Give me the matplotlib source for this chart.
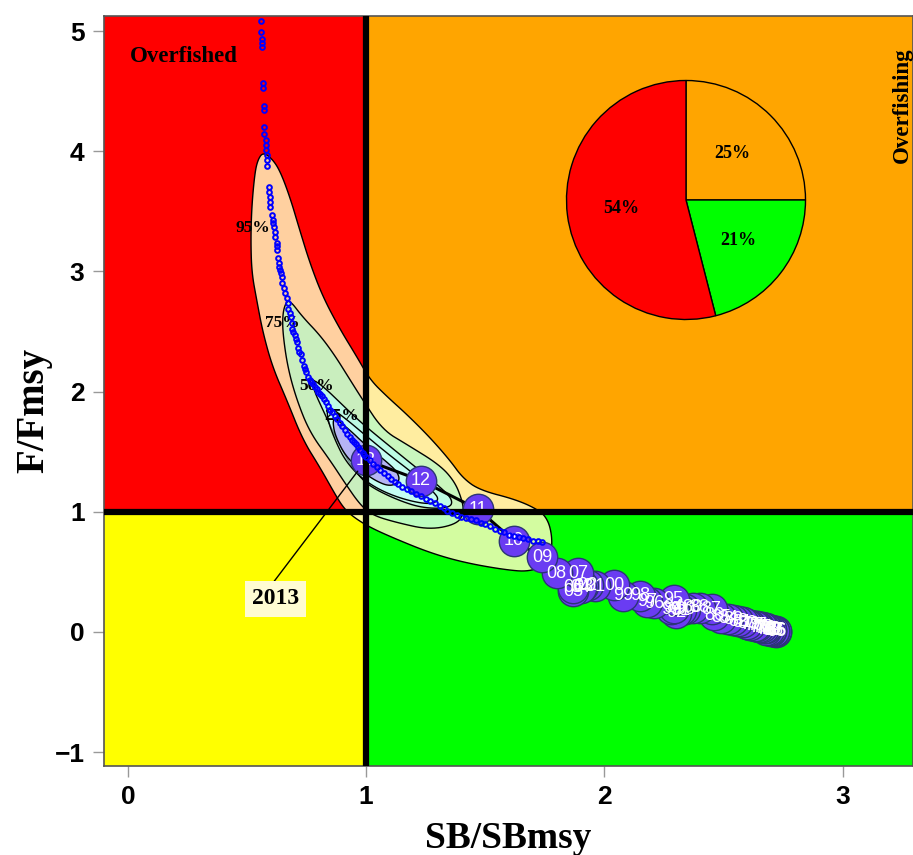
import matplotlib
matplotlib.use("Agg")
import matplotlib.pyplot as plt
import numpy as np

# ---------------- data ----------------
years = list(range(1965, 2014))
sb_ratio = [2.72, 2.72, 2.71, 2.71, 2.70, 2.70, 2.69, 2.68, 2.68, 2.67,
            2.66, 2.65, 2.64, 2.63, 2.61, 2.60, 2.58, 2.56, 2.54, 2.52,
            2.49, 2.46, 2.45, 2.40, 2.37, 2.34, 2.32, 2.30, 2.28, 2.29,
            2.29, 2.21, 2.18, 2.15, 2.08, 2.04, 1.96, 1.93, 1.91, 1.90,
            1.87, 1.87, 1.89, 1.80, 1.74, 1.62, 1.47, 1.23, 1.00]
f_ratio = [0.00, 0.01, 0.01, 0.01, 0.01, 0.02, 0.02, 0.02, 0.03, 0.03,
           0.04, 0.04, 0.05, 0.05, 0.06, 0.07, 0.08, 0.09, 0.10, 0.11,
           0.12, 0.14, 0.19, 0.20, 0.20, 0.19, 0.18, 0.16, 0.19, 0.20,
           0.27, 0.24, 0.25, 0.30, 0.30, 0.39, 0.38, 0.39, 0.38, 0.37,
           0.34, 0.37, 0.49, 0.49, 0.62, 0.76, 1.02, 1.26, 1.43]

# projection / uncertainty points (blue)
proj_x = [0.558, 0.558, 0.562, 0.562, 0.563, 0.567, 0.567, 0.571, 0.571, 0.572,
          0.572, 0.579, 0.580, 0.581, 0.582, 0.584, 0.586, 0.592, 0.594, 0.596,
          0.597, 0.598, 0.606, 0.608, 0.610, 0.615, 0.617, 0.619, 0.625, 0.627,
          0.628, 0.632, 0.634, 0.636, 0.637, 0.644, 0.646, 0.648, 0.657, 0.660,
          0.667, 0.671, 0.674, 0.679, 0.684, 0.688, 0.690, 0.695, 0.700, 0.705,
          0.710, 0.716, 0.720, 0.725, 0.732, 0.738, 0.743, 0.748, 0.757, 0.763,
          0.770, 0.777, 0.785, 0.792, 0.800, 0.807, 0.814, 0.822, 0.830, 0.839,
          0.848, 0.858, 0.868, 0.879, 0.890, 0.900, 0.910, 0.921, 0.932, 0.941,
          0.950, 0.958, 0.965, 0.975, 0.986, 0.993, 1.00, 1.015, 1.03, 1.045,
          1.06, 1.075, 1.09, 1.105, 1.12, 1.135, 1.15, 1.17, 1.19, 1.21,
          1.23, 1.25, 1.27, 1.29, 1.31, 1.325, 1.34, 1.36, 1.38, 1.40,
          1.42, 1.44, 1.46, 1.48, 1.50, 1.52, 1.54, 1.56, 1.58, 1.60,
          1.62, 1.64, 1.66, 1.68, 1.70, 1.72, 1.74]
proj_y = [5.08, 4.99, 4.93, 4.90, 4.87, 4.57, 4.53, 4.38, 4.34, 4.20,
          4.14, 4.09, 4.05, 4.01, 3.97, 3.93, 3.88, 3.70, 3.66, 3.62,
          3.58, 3.54, 3.47, 3.43, 3.40, 3.37, 3.33, 3.29, 3.24, 3.21,
          3.18, 3.11, 3.07, 3.04, 3.01, 2.99, 2.95, 2.90, 2.86, 2.82,
          2.78, 2.74, 2.69, 2.65, 2.62, 2.57, 2.52, 2.50, 2.47, 2.44,
          2.41, 2.36, 2.33, 2.31, 2.26, 2.21, 2.19, 2.16, 2.12, 2.10,
          2.08, 2.06, 2.04, 2.02, 2.00, 1.98, 1.96, 1.94, 1.91, 1.88,
          1.85, 1.83, 1.80, 1.77, 1.74, 1.71, 1.68, 1.65, 1.62, 1.60,
          1.58, 1.56, 1.54, 1.51, 1.49, 1.47, 1.46, 1.43, 1.40, 1.37,
          1.35, 1.32, 1.30, 1.27, 1.25, 1.23, 1.21, 1.19, 1.17, 1.15,
          1.13, 1.11, 1.09, 1.07, 1.05, 1.03, 1.01, 0.99, 0.97, 0.96,
          0.95, 0.94, 0.93, 0.91, 0.90, 0.88, 0.86, 0.84, 0.83, 0.81,
          0.80, 0.79, 0.78, 0.77, 0.76, 0.755, 0.75]

# density contours (probability levels)
c95_x = [0.567, 0.604, 0.638, 0.680, 0.722, 0.764, 0.818, 0.890, 0.961, 1.016,
         1.087, 1.171, 1.267, 1.351, 1.406, 1.477, 1.632, 1.729, 1.763, 1.779,
         1.779, 1.758, 1.687, 1.574, 1.406, 1.267, 1.129, 1.016, 0.944, 0.902,
         0.860, 0.806, 0.734, 0.667, 0.608, 0.567, 0.541, 0.520, 0.516, 0.520,
         0.533, 0.546]
c95_y = [3.99, 3.94, 3.84, 3.62, 3.34, 3.07, 2.79, 2.52, 2.29, 2.10,
         1.96, 1.81, 1.62, 1.43, 1.28, 1.18, 1.10, 1.01, 0.93, 0.81,
         0.68, 0.57, 0.50, 0.52, 0.58, 0.66, 0.77, 0.87, 0.96, 1.04,
         1.18, 1.37, 1.60, 1.93, 2.20, 2.49, 2.76, 2.99, 3.26, 3.54,
         3.82, 3.93]
c75_x = [0.680, 0.734, 0.806, 0.869, 0.932, 0.986, 1.070, 1.171, 1.309, 1.372,
         1.402, 1.410, 1.385, 1.267, 1.129, 1.028, 0.974, 0.911, 0.848, 0.764,
         0.709, 0.671, 0.650, 0.650, 0.663]
c75_y = [2.76, 2.62, 2.47, 2.30, 2.10, 1.93, 1.68, 1.56, 1.39, 1.25,
         1.10, 1.00, 0.90, 0.85, 0.91, 0.97, 1.06, 1.24, 1.43, 1.66,
         1.93, 2.20, 2.49, 2.65, 2.74]
c50_x = [0.772, 0.827, 0.890, 0.953, 1.016, 1.171, 1.309, 1.364, 1.351, 1.238,
         1.129, 1.016, 0.965, 0.923, 0.877, 0.818, 0.781]
c50_y = [2.11, 2.03, 1.91, 1.79, 1.68, 1.43, 1.21, 1.10, 1.03, 1.03,
         1.10, 1.21, 1.31, 1.43, 1.60, 1.85, 2.01]
c25_x = [0.835, 0.911, 0.995, 1.099, 1.204, 1.276, 1.309, 1.267, 1.162, 1.057,
         0.974, 0.911, 0.869, 0.839]
c25_y = [1.89, 1.78, 1.64, 1.47, 1.31, 1.18, 1.10, 1.06, 1.10, 1.18,
         1.29, 1.43, 1.60, 1.76]
c05_x = [0.869, 0.932, 0.995, 1.078, 1.133, 1.141, 1.099, 1.037, 0.974, 0.911,
         0.869, 0.860]
c05_y = [1.78, 1.68, 1.56, 1.43, 1.33, 1.25, 1.21, 1.26, 1.35, 1.47,
         1.64, 1.75]

contour_labels = ["95%", "75%", "50%", "25%"]
contour_label_x = [0.525, 0.650, 0.793, 0.898]
contour_label_y = [3.36, 2.57, 2.05, 1.80]

pie_labels = ["Overfishing", "Healthy", "Overfished"]
pie_values = [25, 21, 54]

x_ticks = [0, 1, 2, 3]
y_ticks = [-1, 0, 1, 2, 3, 4, 5]


def smooth_closed(xs, ys, n_iter=3):
    """Chaikin corner cutting, used only to draw a smooth outline."""
    p = np.column_stack([xs, ys]).astype(float)
    for _ in range(n_iter):
        q = np.roll(p, -1, axis=0)
        p = np.column_stack([0.75 * p + 0.25 * q, 0.25 * p + 0.75 * q]).reshape(-1, 2)
    return p[:, 0], p[:, 1]


# ---------------- plotting ----------------
W, H = 913, 855
fig = plt.figure(figsize=(W / 100, H / 100), dpi=100)
ax = fig.add_axes([104 / W, (H - 766) / H, 809 / W, 750 / H])
xmin, xmax = -0.100, 3.295
ymin, ymax = -1.115, 5.125
ax.set_xlim(xmin, xmax)
ax.set_ylim(ymin, ymax)

RED, ORANGE, YELLOW, GREEN = "#FF0000", "#FFA500", "#FFFF00", "#00FF00"
ax.fill_between([xmin, 1], 1, ymax, color=RED, lw=0, zorder=0)
ax.fill_between([1, xmax], 1, ymax, color=ORANGE, lw=0, zorder=0)
ax.fill_between([xmin, 1], ymin, 1, color=YELLOW, lw=0, zorder=0)
ax.fill_between([1, xmax], ymin, 1, color=GREEN, lw=0, zorder=0)

contours = [
    (c95_x, c95_y, (1.0, 0.99, 0.76), 0.83),
    (c75_x, c75_y, (0.70, 0.99, 0.80), 0.70),
    (c50_x, c50_y, (0.72, 1.0, 0.98), 0.65),
    (c25_x, c25_y, (0.80, 1.0, 1.0), 0.55),
    (c05_x, c05_y, (0.70, 0.66, 0.96), 0.85),
]
for i, (cx, cy, col, a) in enumerate(contours):
    sx, sy = smooth_closed(cx, cy)
    ax.fill(sx, sy, facecolor=col + (a,), edgecolor="black", lw=1.0, zorder=1 + i * 0.01)

serif = "Liberation Serif"
for lab, lx, ly in zip(contour_labels, contour_label_x, contour_label_y):
    ax.text(lx, ly, lab, fontsize=12.5, fontweight="bold", family=serif,
            ha="center", va="center", zorder=2)

# trajectory
ax.plot(sb_ratio, f_ratio, color="black", lw=2.2, zorder=3)
ax.scatter(sb_ratio, f_ratio, s=480, color="#6a3cf2", edgecolor="#2b3575",
           linewidth=1.0, zorder=4)
for yr, xv, yv in zip(years, sb_ratio, f_ratio):
    ax.text(xv, yv, f"{yr % 100:02d}", color="white", fontsize=13,
            ha="center", va="center", family="Liberation Sans", zorder=5)

# reference lines
ax.axvline(1, color="black", lw=4.5, zorder=6)
ax.axhline(1, color="black", lw=4.5, zorder=6)

# projection points
ax.plot(proj_x, proj_y, "o", ms=3.4, mfc="none", mec="#0000FF", mew=1.4, zorder=7)

# quadrant labels
ax.text(0.01, 4.79, "Overfished", fontsize=16.5, fontweight="bold", family=serif,
        ha="left", va="center", zorder=8)
ax.text(3.25, 4.38, "Overfishing", fontsize=16.5, fontweight="bold", family=serif,
        ha="center", va="center", rotation=90, zorder=8)

# 2013 annotation
ax.annotate(str(years[-1]), xy=(sb_ratio[-1], f_ratio[-1]), xytext=(0.621, 0.275),
            fontsize=17, fontweight="bold", family=serif, ha="center", va="center",
            bbox=dict(boxstyle="square,pad=0.3", fc="#FFFCD2", ec="none"),
            arrowprops=dict(arrowstyle="-", color="black", lw=1.0, shrinkA=0, shrinkB=10,
                            relpos=(0.35, 1.0)),
            zorder=9)

ax.set_xticks(x_ticks)
ax.set_yticks(y_ticks)
ax.set_xticklabels([str(t) for t in x_ticks])
ax.set_yticklabels(["\u22121" if t < 0 else str(t) for t in y_ticks])
for lab in ax.get_xticklabels() + ax.get_yticklabels():
    lab.set_fontsize(19)
    lab.set_fontweight("bold")
    lab.set_family("Liberation Sans")
ax.tick_params(axis="both", length=8, width=1, color="#999999", pad=6)
for sp in ax.spines.values():
    sp.set_color("#555555")
    sp.set_linewidth(1.2)

ax.set_xlabel("SB/SBmsy", fontsize=27, fontweight="bold", family=serif, labelpad=8)
ax.set_ylabel("F/Fmsy", fontsize=28, fontweight="bold", family=serif)
ax.yaxis.set_label_coords((52 - 104) / 809, (766 - 410) / 750)

# pie inset
cx_px, cy_px, r_px = 686, 200, 119.5
pax = fig.add_axes([(cx_px - r_px) / W, (H - cy_px - r_px) / H, 2 * r_px / W, 2 * r_px / H])
pax.pie(pie_values, colors=[ORANGE, GREEN, RED], startangle=90, counterclock=False,
        autopct=lambda p: f"{p:.0f}%", pctdistance=0.55,
        wedgeprops=dict(edgecolor="black", linewidth=1.0),
        textprops=dict(fontsize=13, fontweight="bold", family=serif))
pax.set_xlim(-1.0, 1.0)
pax.set_ylim(-1.0, 1.0)
pax.set_aspect("equal")
pax.axis("off")

fig.savefig("out.png", dpi=100)
